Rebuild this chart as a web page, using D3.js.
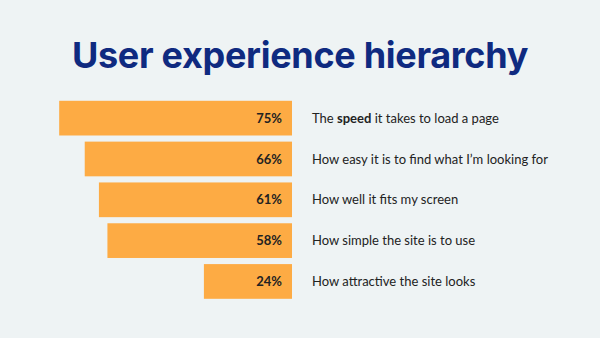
<!DOCTYPE html>
<html><head><meta charset="utf-8">
<script src="https://cdn.jsdelivr.net/npm/d3@7"></script>
<style>
html,body{margin:0;padding:0;background:#eef3f4;}
svg{display:block;}
</style></head>
<body>
<svg id="chart" width="600" height="338"></svg>
<script>
const title = "User experience hierarchy";
const categories = [
  "The speed it takes to load a page",
  "How easy it is to find what I\u2019m looking for",
  "How well it fits my screen",
  "How simple the site is to use",
  "How attractive the site looks"
];
const boldWord = ["speed", null, null, null, null];
const values = [75, 66, 61, 58, 24];

const svg = d3.select("#chart");
svg.append("rect").attr("width",600).attr("height",338).attr("fill","#eef3f4");

svg.append("text").attr("x",300).attr("y",68).attr("text-anchor","middle")
  .attr("font-family","Inter, 'Open Sans', sans-serif").attr("font-weight",700)
  .attr("font-size",36).attr("fill","#0f2a80").attr("letter-spacing","-0.3")
  .text(title);

const barRight = 292;
const y = d3.scaleBand().domain(categories).range([100.8, 298.8]).paddingInner(0.15).paddingOuter(0);
const x = d3.scaleLinear().domain([0, 80]).range([barRight - 20, barRight - 247]);

const g = svg.append("g");
const rows = g.selectAll("g.row").data(categories.map((c,i)=>({c, v:values[i], b:boldWord[i]})))
  .join("g").attr("class","row");

rows.append("rect")
  .attr("x", d => x(d.v))
  .attr("y", d => y(d.c))
  .attr("width", d => barRight - x(d.v))
  .attr("height", y.bandwidth())
  .attr("fill", "#fdab44");

rows.append("text")
  .attr("x", barRight - 10)
  .attr("y", d => y(d.c) + y.bandwidth()/2)
  .attr("dy", "0.35em")
  .attr("text-anchor","end")
  .attr("font-family","Lato, sans-serif").attr("font-weight",700)
  .attr("font-size",13).attr("fill","#222")
  .text(d => d.v + "%");

rows.append("text")
  .attr("x", 312)
  .attr("y", d => y(d.c) + y.bandwidth()/2)
  .attr("dy", "0.35em")
  .attr("font-family","Lato, sans-serif").attr("font-size",13).attr("fill","#222")
  .each(function(d){
    const t = d3.select(this);
    if (d.b) {
      const parts = d.c.split(d.b);
      t.append("tspan").text(parts[0]);
      t.append("tspan").attr("font-weight",700).text(d.b);
      t.append("tspan").text(parts[1]);
    } else {
      t.text(d.c);
    }
  });
</script>
</body></html>
